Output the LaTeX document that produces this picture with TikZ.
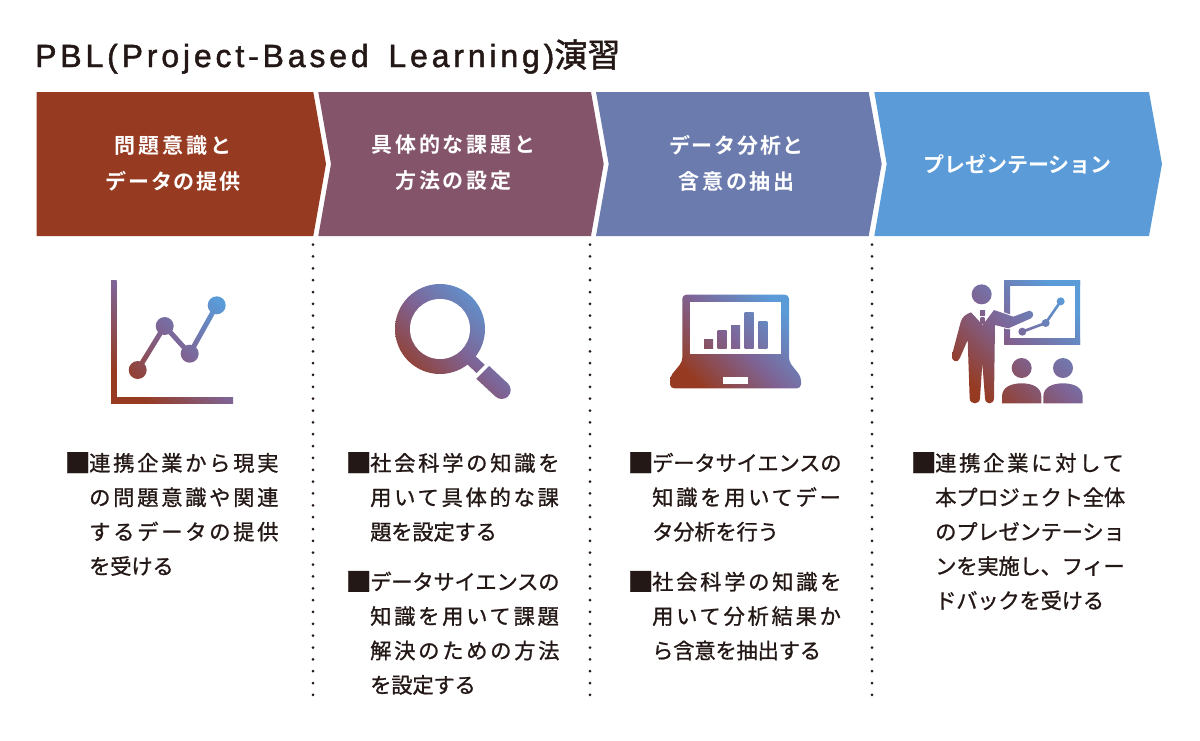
\documentclass[tikz,border=0pt]{standalone}
\usepackage{fontspec}
\usepackage{tikz}
\usetikzlibrary{calc}
\usetikzlibrary{positioning}
\setmainfont{Liberation Sans}
\newfontfamily\jpbody[FakeBold=1, LetterSpace=-1]{Noto Sans CJK JP}
\newfontfamily\jpwide[FakeBold=1, LetterSpace=12.7]{Noto Sans CJK JP}
\newfontfamily\jphead[LetterSpace=14]{Noto Sans CJK JP Bold}
\newfontfamily\jpheadmid[LetterSpace=8]{Noto Sans CJK JP Bold}
\newfontfamily\jpheadtight{Noto Sans CJK JP Bold}
\newfontfamily\jptitle[FakeBold=1.5]{Noto Sans CJK JP}
\newfontfamily\latintitle[LetterSpace=12, FakeBold=1.5]{Liberation Sans}
\definecolor{inkdark}{HTML}{231815}
\definecolor{stepone}{HTML}{963B22}
\definecolor{steptwo}{HTML}{84546B}
\definecolor{stepthree}{HTML}{6B7BAE}
\definecolor{stepfour}{HTML}{5A9BD8}
\definecolor{rampmid}{HTML}{7E6496}
\pgfdeclarehorizontalshading{iconramp}{100bp}{color(0bp)=(stepone); color(25bp)=(stepone); color(50bp)=(rampmid); color(75bp)=(stepfour); color(100bp)=(stepfour)}
\newcommand{\rampfill}[2]{\begin{scope}\clip #2; \shade[shading=iconramp, shading angle=45] (#1a) rectangle (#1b);\end{scope}}
\newcommand{\bandpath}[3]{($(#1)!#3!90:(#2)$) -- ($(#1)!#3!-90:(#2)$) -- ($(#2)!#3!90:(#1)$) -- ($(#2)!#3!-90:(#1)$) -- cycle}
\newcommand{\hangin}{\hspace*{23pt}}
\newcommand{\notemark}{\makebox[23pt][c]{\raisebox{-1.5pt}{\fontsize{26}{34.4}\selectfont ■}}}
\newcommand{\wideline}[1]{{\jpwide #1}}
\tikzset{
  steptext/.style={text=white, align=center, inner sep=0pt, font={\fontsize{21}{36}\selectfont\jphead}},
  bodytext/.style={text=inkdark, align=left, inner sep=0pt, anchor=north west, font={\fontsize{21.3}{34.4}\selectfont\jpbody}},
  sepdots/.style={inkdark, line width=3pt, line cap=round, dash pattern=on 0pt off 11.85pt}
}
\begin{document}
\begin{tikzpicture}[x=1pt,y=-1pt]
\path[use as bounding box] (0,0) rectangle (1200,740);

\node [text=inkdark, inner sep=0pt, anchor=base west, font={\fontsize{32}{36}\selectfont}] (title) at (35,67)
  {{\latintitle PBL(Project-Based\hspace{7pt} Learning)}{\fontsize{33}{36}\selectfont\jptitle 演習}};

\fill [stepone] (36.5,92) -- (313.3,92) -- (326,164) -- (313.3,236) -- (36.5,236) -- cycle;
\fill [steptwo] (318.3,92) -- (591,92) -- (603.7,164) -- (591,236) -- (318.3,236) -- (331,164) -- cycle;
\fill [stepthree] (596,92) -- (868.7,92) -- (881.7,164) -- (868.7,236) -- (596,236) -- (608.7,164) -- cycle;
\fill [stepfour] (874.3,92) -- (1149,92) -- (1162,164) -- (1149,236) -- (874.3,236) -- (886.7,164) -- cycle;

\node [steptext] (problem) at (173,163) {問題意識と\\{\jpheadmid データの提供}};
\node [steptext] (task) at (453.5,163) {具体的な課題と\\方法の設定};
\node [steptext] (analysis) at (736.5,163) {{\jpheadmid データ分析と}\\含意の抽出};
\node [steptext] (presentation) at (1017.5,164) {{\jpheadtight プレゼンテーション}};

\coordinate (sepa) at (313,244.6);
\coordinate (sepb) at (313,696);
\coordinate (sepc) at (590,244.6);
\coordinate (sepd) at (590,696);
\coordinate (sepe) at (872,244.6);
\coordinate (sepf) at (872,696);
\draw [sepdots] (sepa) -- (sepb);
\draw [sepdots] (sepc) -- (sepd);
\draw [sepdots] (sepe) -- (sepf);

\coordinate (charta) at (111,403);
\coordinate (chartb) at (233,280);
\coordinate (ptone) at (137.7,370);
\coordinate (pttwo) at (164.7,326);
\coordinate (ptthree) at (189.7,353.7);
\coordinate (ptfour) at (216.7,305.3);
\rampfill{chart}{(111,280.5) rectangle (116.7,403)}
\rampfill{chart}{(111,397) rectangle (233.5,403)}
\rampfill{chart}{(ptone) circle (9)}
\rampfill{chart}{(pttwo) circle (9)}
\rampfill{chart}{(ptthree) circle (9)}
\rampfill{chart}{(ptfour) circle (9)}
\rampfill{chart}{\bandpath{ptone}{pttwo}{2.5pt}}
\rampfill{chart}{\bandpath{pttwo}{ptthree}{2.5pt}}
\rampfill{chart}{\bandpath{ptthree}{ptfour}{2.5pt}}

\coordinate (lensa) at (395,400);
\coordinate (lensb) at (511,284);
\rampfill{lens}{(440,329) circle (45)}
\fill [white] (440,329) circle (30);
\rampfill{lens}{(472.1,352.9) -- (463.9,361.1) -- (476.6,373.1) -- (484.8,364.9) -- cycle}
\rampfill{lens}{(489.1,365.9) -- (476.3,378.7) -- (495.3,396.4) -- (508,383.6) -- cycle}
\rampfill{lens}{(501.7,390) circle (9)}

\coordinate (laptopa) at (670,388.3);
\coordinate (laptopb) at (801,294.7);
\rampfill{laptop}{[rounded corners=4pt] (682.3,294.7) -- (789,294.7) -- (789,361.7) -- (801,376.7) -- (801,388.3) -- (670,388.3) -- (670,376.7) -- (682.3,361.7) -- cycle}
\fill [white] (690,302.3) rectangle (781.3,354.3);
\fill [white] (723.3,377.3) rectangle (748,383.7);
\rampfill{laptop}{(704,339) rectangle (713,348)}
\rampfill{laptop}{(717.7,330) rectangle (726.7,348)}
\rampfill{laptop}{(731,325.7) rectangle (740,348)}
\rampfill{laptop}{(744.7,312) rectangle (753.7,348)}
\rampfill{laptop}{(758.3,321) rectangle (767.3,348)}

\coordinate (speakera) at (952,403.5);
\coordinate (speakerb) at (1083,280);
\begin{scope}[shift={(945,275)}, scale=1/3]
  \rampfill{speaker}{(178,16) rectangle (405,32)}
  \rampfill{speaker}{(178,190) rectangle (405,207)}
  \rampfill{speaker}{(178,16) rectangle (195,207)}
  \rampfill{speaker}{(390,16) rectangle (405,207)}
  \coordinate (pointa) at (232,170);
  \coordinate (pointb) at (302,144);
  \coordinate (pointc) at (347,79);
  \rampfill{speaker}{\bandpath{pointa}{pointb}{4pt}}
  \rampfill{speaker}{\bandpath{pointb}{pointc}{4pt}}
  \rampfill{speaker}{(pointa) circle (12)}
  \rampfill{speaker}{(pointb) circle (12)}
  \rampfill{speaker}{(pointc) circle (12)}
  \draw [white, line width=2pt, line join=round] (147,105) -- (205,125) -- (250,108) -- (262,125) -- (190,160) -- (150,150) -- (150,200);
  \rampfill{speaker}{(78,112) .. controls (62,118) and (50,125) .. (46,145) -- (21,240) .. controls (18,262) and (40,265) .. (45,248) -- (68,195) -- (74,370) .. controls (75,390) and (104,390) .. (105,370) -- (112,265) -- (120,370) .. controls (121,390) and (146,390) .. (147,370) -- (150,150) -- (190,160) -- (258,130) .. controls (272,122) and (262,100) .. (245,110) -- (205,125) -- (147,105) -- (113,150) -- cycle}
  \rampfill{speaker}{(105,107) rectangle (120,120)}
  \rampfill{speaker}{(107,127) rectangle (118,145)}
  \rampfill{speaker}{(110,58) circle (30)}
  \rampfill{speaker}{(230,279) circle (30)}
  \rampfill{speaker}{(354,279) circle (30)}
  \rampfill{speaker}{(171,385) -- (171,365) .. controls (171,335) and (200,325) .. (230,325) .. controls (260,325) and (289,335) .. (289,365) -- (289,385) -- cycle}
  \rampfill{speaker}{(295,385) -- (295,365) .. controls (295,335) and (324,325) .. (354,325) .. controls (384,325) and (413,335) .. (413,365) -- (413,385) -- cycle}
\end{scope}

\node [bodytext] (noteone) at (66,452) {\notemark\wideline{連携企業から現実}\\\hangin\wideline{の問題意識や関連}\\\hangin\wideline{するデータの提供}\\\hangin を受ける};
\node [bodytext] (notetwo) at (347,452) {\notemark\wideline{社会科学の知識を}\\\hangin\wideline{用いて具体的な課}\\\hangin 題を設定する};
\node [bodytext, below=29pt of notetwo.south west, anchor=north west] (notethree) {\notemark データサイエンスの\\\hangin\wideline{知識を用いて課題}\\\hangin\wideline{解決のための方法}\\\hangin を設定する};
\node [bodytext] (notefour) at (629,452) {\notemark データサイエンスの\\\hangin\wideline{知識を用いてデー}\\\hangin タ分析を行う};
\node [bodytext, below=29pt of notefour.south west, anchor=north west] (notefive) {\notemark\wideline{社会科学の知識を}\\\hangin\wideline{用いて分析結果か}\\\hangin ら含意を抽出する};
\node [bodytext] (notesix) at (912,452) {\notemark\wideline{連携企業に対して}\\\hangin 本プロジェクト全体\\\hangin のプレゼンテーショ\\\hangin ンを実施し、フィー\\\hangin ドバックを受ける};
\end{tikzpicture}
\end{document}
